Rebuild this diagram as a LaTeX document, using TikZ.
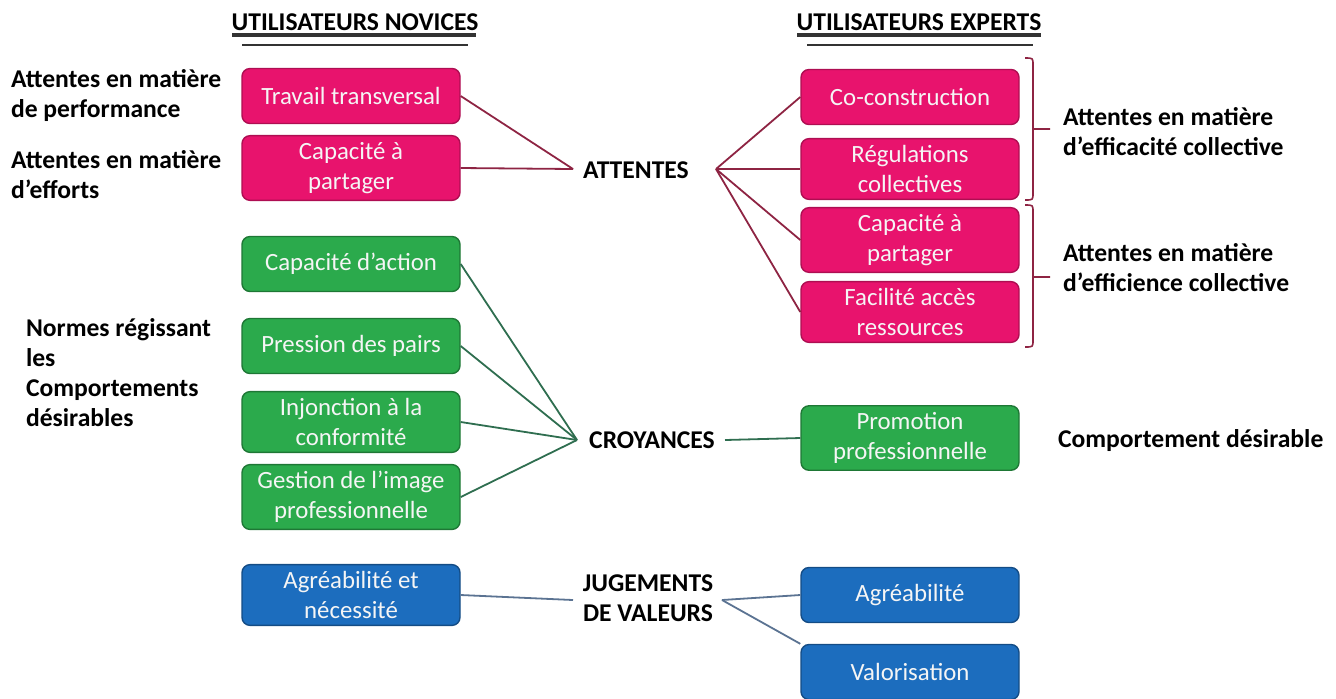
\documentclass[tikz,border=0pt]{standalone}
\usepackage{fontspec}
\setmainfont{Carlito}

\definecolor{rose}{HTML}{E8136D}
\definecolor{roseline}{HTML}{8E2443}
\definecolor{vert}{HTML}{2BAA4C}
\definecolor{vertline}{HTML}{2F6E50}
\definecolor{bleu}{HTML}{1C6DBE}
\definecolor{bleuline}{HTML}{5B7392}

\begin{document}
\begin{tikzpicture}[x=0.5pt,y=-0.5pt,font=\fontsize{12.4}{15}\selectfont,
	box/.style={rectangle,rounded corners=4pt,minimum width=109pt,minimum height=27.5pt,align=center,line width=0.7pt,text=white!92!gray},
	rosebox/.style={box,fill=rose,draw=rose!75!black},
	vertbox/.style={box,fill=vert,draw=vert!70!black},
	bleubox/.style={box,fill=bleu,draw=bleu!70!black},
	lbl/.style={font=\fontsize{12.8}{15}\selectfont\bfseries,align=left,anchor=west},
	hub/.style={font=\fontsize{12.8}{15}\selectfont\bfseries,align=center}]
	\useasboundingbox (0,0) rectangle (1336,698);

	% titres
	\node[hub] (TN) at (355,22) {UTILISATEURS NOVICES};
	\node[hub] (TE) at (919,22) {UTILISATEURS EXPERTS};
	\draw[gray!40!black,line width=1.6pt] (232,35) -- (476,35) (797,35) -- (1041,35);
	\draw[gray!40!black,line width=1.3pt] (242,45) -- (468,45) (807,45) -- (1033,45);

	% novices
	\node[rosebox] (N1) at (351,96) {Travail transversal};
	\node[rosebox] (N2) at (351,168) {Capacité à\\ partager};
	\node[vertbox] (N3) at (351,264) {Capacité d’action};
	\node[vertbox] (N4) at (351,346) {Pression des pairs};
	\node[vertbox] (N5) at (351,422) {Injonction à la\\ conformité};
	\node[vertbox] (N6) at (351,497) {Gestion de l’image\\ professionnelle};
	\node[bleubox] (N7) at (351,595) {Agréabilité et\\ nécessité};

	% experts
	\node[rosebox] (E1) at (910,97) {Co-construction};
	\node[rosebox] (E2) at (910,169) {Régulations\\ collectives};
	\node[rosebox] (E3) at (910,240) {Capacité à\\ partager};
	\node[rosebox] (E4) at (910,312) {Facilité accès\\ ressources};
	\node[vertbox] (E5) at (910,438) {Promotion\\ professionnelle};
	\node[bleubox] (E6) at (910,595) {Agréabilité};
	\node[bleubox] (E7) at (910,672) {Valorisation};

	% centre
	\node[hub] (ATT) at (636,170) {ATTENTES};
	\node[hub] (CRO) at (652,440) {CROYANCES};
	\node[hub] (JUG) at (648,598) {JUGEMENTS\\ DE VALEURS};
	\coordinate (ATTw) at (573,169);
	\coordinate (ATTe) at (716,169);
	\coordinate (CROw) at (577,440);
	\coordinate (CROe) at (725,440);
	\coordinate (JUGw) at (573,600);
	\coordinate (JUGe) at (722,600);

	\path[draw=roseline,line width=0.9pt] (N1.east) edge (ATTw)
		(N2.east) edge (ATTw)
		(ATTe) edge (E1.west)
		(ATTe) edge (E2.west)
		(ATTe) edge (E3.west)
		(ATTe) edge (E4.west);
	\path[draw=vertline,line width=0.9pt] (N3.east) edge (CROw)
		(N4.east) edge (CROw)
		(N5.east) edge (CROw)
		(N6.east) edge (CROw)
		(CROe) edge (E5.west);
	\path[draw=bleuline,line width=0.9pt] (N7.east) edge (JUGw)
		(JUGe) edge (E6.west)
		(JUGe) edge (E7.north west);

	% accolades
	\draw[roseline,line width=0.8pt] (1025,58) .. controls (1033,58) .. (1033,65) -- (1033,193) .. controls (1033,200) .. (1025,200)
		(1033,129) -- (1050,129);
	\draw[roseline,line width=0.8pt] (1025,205) .. controls (1033,205) .. (1033,212) -- (1033,340) .. controls (1033,347) .. (1025,347)
		(1033,277) -- (1050,277);

	% libelles
	\node[lbl] (L1) at (4,96) {Attentes en matière\\ de performance};
	\node[lbl] (L2) at (4,175) {Attentes en matière\\ d’efforts};
	\node[lbl] (L3) at (19,373) {Normes régissant\\ les\\ Comportements\\ désirables};
	\node[lbl] (R1) at (1056,132) {Attentes en matière\\ d’efficacité collective};
	\node[lbl] (R2) at (1056,268) {Attentes en matière\\ d’efficience collective};
	\node[lbl] (R3) at (1051,441) {Comportement désirable};
\end{tikzpicture}
\end{document}
